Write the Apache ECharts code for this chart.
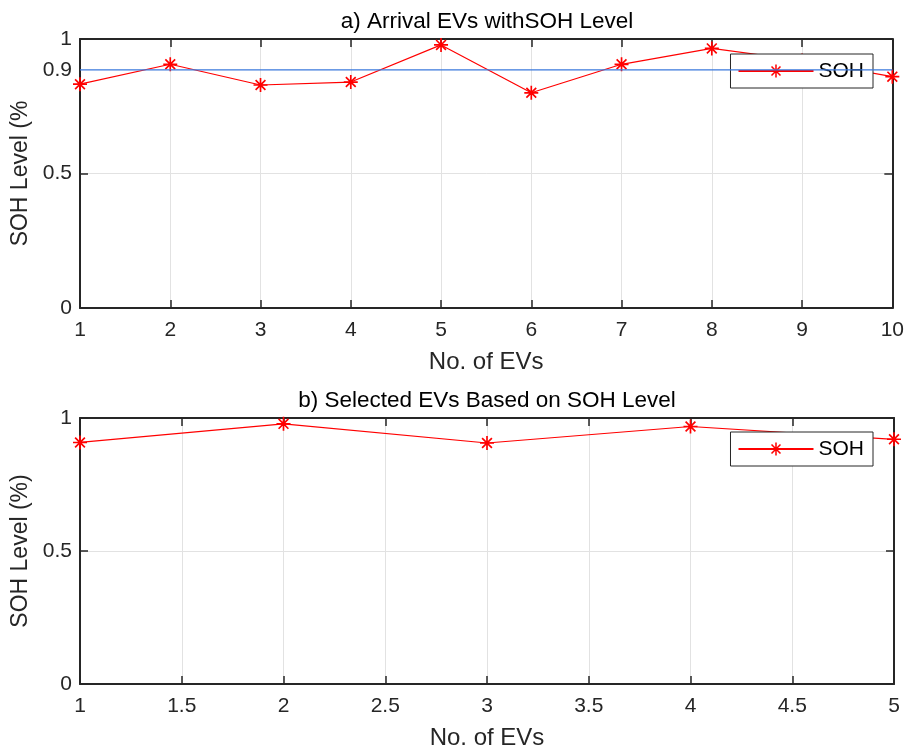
<!DOCTYPE html>
<html>
<head>
<meta charset="utf-8">
<script src="https://cdn.jsdelivr.net/npm/echarts@6/dist/echarts.min.js"></script>
<style>
  html, body { margin: 0; padding: 0; background: #fff; }
  #chart { width: 907px; height: 751px; }
</style>
</head>
<body>
<div id="chart"></div>
<script>
// ---- Data ----
const evTop = [1, 2, 3, 4, 5, 6, 7, 8, 9, 10];
const sohTop = [0.832, 0.906, 0.829, 0.840, 0.978, 0.800, 0.906, 0.965, 0.920, 0.860];
const evBottom = [1, 2, 3, 4, 5];
const sohBottom = [0.908, 0.978, 0.906, 0.968, 0.920];
const thresholdLevel = [0.885];
const topYLabelValues = [0, 0.5, 0.885, 1];
const yTickValues = [0, 0.5, 1];
const titles = ['a) Arrival EVs withSOH Level', 'b) Selected EVs Based on SOH Level'];
const yNames = ['SOH Level (%', 'SOH Level (%)'];
const xName = 'No. of EVs';

// ---- Styling ----
const FONT = 'Liberation Sans, Arial, Helvetica, sans-serif';
const TXT = '#262626';
const AX = '#262626';
const GRIDC = '#e2e2e2';
const RED = '#ff0000';
const BLUE = '#3a78dc';
const asterisk = 'path://M44 0L56 0L56 100L44 100Z M0 44L100 44L100 56L0 56Z M10.8 19.2L19.2 10.8L89.2 80.8L80.8 89.2Z M80.8 10.8L89.2 19.2L19.2 89.2L10.8 80.8Z';

function xAxes(gi, min, max, interval) {
  const common = {
    gridIndex: gi, type: 'value', min: min, max: max, interval: interval,
    axisLine: { onZero: false, lineStyle: { color: AX, width: 2 } },
    axisTick: { inside: true, length: 8, lineStyle: { color: AX, width: 1.5 } }
  };
  return [
    Object.assign({}, common, {
      position: 'bottom',
      name: xName, nameLocation: 'middle', nameGap: 42,
      nameTextStyle: { fontSize: 24, color: TXT, fontFamily: FONT },
      axisLabel: { fontSize: 21, color: TXT, fontFamily: FONT, margin: 12 },
      splitLine: { show: true, lineStyle: { color: GRIDC, width: 1 } }
    }),
    Object.assign({}, common, {
      position: 'top',
      axisLabel: { show: false },
      splitLine: { show: false }
    })
  ];
}

function yAxes(gi, name, labelValues) {
  const common = {
    gridIndex: gi, type: 'value', min: 0, max: 1, interval: 0.5,
    axisLine: { onZero: false, lineStyle: { color: AX, width: 2 } },
    axisTick: { inside: true, length: 8, customValues: yTickValues, lineStyle: { color: AX, width: 1.5 } }
  };
  return [
    Object.assign({}, common, {
      position: 'left',
      name: name, nameLocation: 'middle', nameGap: 41, nameRotate: 90,
      nameTextStyle: { fontSize: 23, color: TXT, fontFamily: FONT },
      axisLabel: {
        fontSize: 21, color: TXT, fontFamily: FONT, margin: 8,
        customValues: labelValues,
        formatter: function (v) { return String(Math.round(v * 10) / 10); }
      },
      splitLine: { show: true, lineStyle: { color: GRIDC, width: 1 } }
    }),
    Object.assign({}, common, {
      position: 'right',
      axisLabel: { show: false },
      splitLine: { show: false }
    })
  ];
}

function legendFor(top) {
  return {
    data: ['SOH'], right: 34, top: top, orient: 'horizontal',
    backgroundColor: '#ffffff', borderColor: '#262626', borderWidth: 1,
    padding: [6, 9, 6, 7], itemWidth: 75, itemHeight: 16, itemGap: 5,
    textStyle: { fontSize: 21, color: '#000', fontFamily: FONT, lineHeight: 22 },
    selectedMode: false
  };
}

const option = {
  backgroundColor: '#ffffff',
  animation: false,
  textStyle: { fontFamily: FONT },
  title: [
    { text: titles[0], left: 487, top: 10, textAlign: 'center', padding: 0,
      textStyle: { fontSize: 22.5, fontWeight: 'normal', color: '#000', fontFamily: FONT } },
    { text: titles[1], left: 487, top: 389, textAlign: 'center', padding: 0,
      textStyle: { fontSize: 22.5, fontWeight: 'normal', color: '#000', fontFamily: FONT } }
  ],
  grid: [
    { left: 80, right: 13, top: 39, height: 269 },
    { left: 80, right: 13, top: 418, height: 266 }
  ],
  legend: [legendFor(54), legendFor(432)],
  xAxis: [].concat(xAxes(0, 1, 10, 1), xAxes(1, 1, 5, 0.5)),
  yAxis: [].concat(yAxes(0, yNames[0], topYLabelValues), yAxes(1, yNames[1], yTickValues)),
  series: [
    {
      name: 'SOH', type: 'line', xAxisIndex: 0, yAxisIndex: 0,
      data: evTop.map(function (x, i) { return [x, sohTop[i]]; }),
      symbol: asterisk, symbolSize: 14, clip: false,
      itemStyle: { color: RED }, lineStyle: { color: RED, width: 1.2 },
      z: 3, silent: true
    },
    {
      name: 'Threshold', type: 'line', xAxisIndex: 0, yAxisIndex: 0,
      data: [[evTop[0], thresholdLevel[0]], [evTop[evTop.length - 1], thresholdLevel[0]]],
      symbol: 'none', lineStyle: { color: BLUE, width: 1.3 },
      z: 10, silent: true
    },
    {
      name: 'SOH', type: 'line', xAxisIndex: 2, yAxisIndex: 2,
      data: evBottom.map(function (x, i) { return [x, sohBottom[i]]; }),
      symbol: asterisk, symbolSize: 14, clip: false,
      itemStyle: { color: RED }, lineStyle: { color: RED, width: 1.2 },
      z: 3, silent: true
    }
  ]
};

const chart = echarts.init(document.getElementById('chart'), null, { renderer: 'canvas' });
chart.setOption(option);
</script>
</body>
</html>
